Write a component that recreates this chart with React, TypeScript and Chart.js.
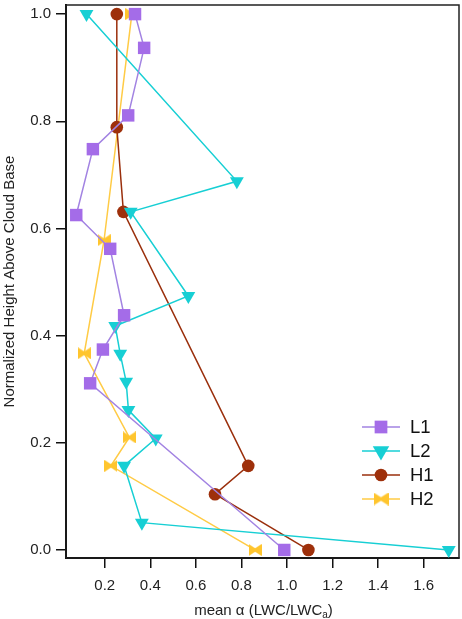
import React, { useEffect, useRef } from 'react';
import { Chart, registerables } from 'chart.js';
import { drawPoint } from 'chart.js/helpers';

Chart.register(...registerables);

// series (mean alpha vs normalized height)
const seriesNames = ['L1', 'L2', 'H1', 'H2'];

const l1Alpha = [0.333, 0.373, 0.303, 0.148, 0.075, 0.224, 0.285, 0.192, 0.136, 0.988];
const l1Height = [1.0, 0.937, 0.811, 0.748, 0.625, 0.562, 0.438, 0.374, 0.311, 0.0];

const l2Alpha = [0.12, 0.78, 0.314, 0.567, 0.246, 0.268, 0.294, 0.304, 0.424, 0.285, 0.363, 1.71];
const l2Height = [1.0, 0.688, 0.631, 0.474, 0.418, 0.366, 0.314, 0.261, 0.208, 0.157, 0.051, 0.0];

const h1Alpha = [0.253, 0.253, 0.282, 0.83, 0.684, 1.094];
const h1Height = [1.0, 0.789, 0.631, 0.157, 0.104, 0.0];

const h2Alpha = [0.319, 0.197, 0.11, 0.308, 0.227, 0.86];
const h2Height = [1.0, 0.578, 0.367, 0.21, 0.157, 0.0];

const xTicks = [0.2, 0.4, 0.6, 0.8, 1.0, 1.2, 1.4, 1.6];
const yTicks = [0, 0.2, 0.4, 0.6, 0.8, 1.0];

const FONT = '"Liberation Sans", Arial, sans-serif';

const toPoints = (xs: number[], ys: number[]) => xs.map((x, i) => ({ x, y: ys[i] }));

// bow-tie marker for H2
const makeBowtie = (color: string, w: number, h: number) => {
  const c = document.createElement('canvas');
  c.width = w;
  c.height = h;
  const g = c.getContext('2d');
  if (g) {
    g.fillStyle = color;
    g.beginPath();
    g.moveTo(0, 0);
    g.lineTo(w / 2, h * 0.36);
    g.lineTo(w, 0);
    g.lineTo(w, h);
    g.lineTo(w / 2, h * 0.64);
    g.lineTo(0, h);
    g.closePath();
    g.fill();
  }
  return c;
};

const framePlugin = {
  id: 'frame',
  beforeDatasetsDraw(chart: any) {
    const { ctx, chartArea: a } = chart;
    ctx.save();
    ctx.strokeStyle = '#222';
    ctx.lineWidth = 1.5;
    ctx.strokeRect(a.left, a.top, a.right - a.left, a.bottom - a.top);
    ctx.restore();
  },
};

const legendPlugin = {
  id: 'insideLegend',
  afterDatasetsDraw(chart: any) {
    const { ctx, chartArea: a } = chart;
    ctx.save();
    chart.data.datasets.forEach((ds: any, i: number) => {
      const y = a.bottom - 131 + i * 24;
      const x0 = a.right - 97;
      ctx.strokeStyle = ds.borderColor;
      ctx.lineWidth = 1.5;
      ctx.beginPath();
      ctx.moveTo(x0, y);
      ctx.lineTo(x0 + 38, y);
      ctx.stroke();
      ctx.fillStyle = ds.pointBackgroundColor;
      drawPoint(
        ctx,
        {
          pointStyle: ds.legendStyle || ds.pointStyle,
          rotation: ds.pointRotation || 0,
          radius: ds.legendRadius || ds.pointRadius,
          borderWidth: 0,
        } as any,
        x0 + 19,
        y
      );
      ctx.fillStyle = '#111';
      ctx.font = '18.5px ' + FONT;
      ctx.textBaseline = 'middle';
      ctx.textAlign = 'left';
      ctx.fillText(seriesNames[i], a.right - 49, y + 1);
    });
    ctx.restore();
  },
};

// x title with a real subscript
const xTitlePlugin = {
  id: 'xTitle',
  afterDraw(chart: any) {
    const { ctx, chartArea: a } = chart;
    ctx.save();
    ctx.fillStyle = '#222';
    ctx.textBaseline = 'alphabetic';
    ctx.textAlign = 'left';
    const main = '15px ' + FONT;
    const sub = '10px ' + FONT;
    const p1 = 'mean α (LWC/LWC';
    const p2 = 'a';
    const p3 = ')';
    ctx.font = main;
    const w1 = ctx.measureText(p1).width;
    const w3 = ctx.measureText(p3).width;
    ctx.font = sub;
    const w2 = ctx.measureText(p2).width;
    const total = w1 + w2 + w3;
    let x = (a.left + a.right) / 2 + 1 - total / 2;
    const base = 615;
    ctx.font = main;
    ctx.fillText(p1, x, base);
    x += w1;
    ctx.font = sub;
    ctx.fillText(p2, x, base + 3);
    x += w2;
    ctx.font = main;
    ctx.fillText(p3, x, base);
    ctx.restore();
  },
};

const ProfileChart: React.FC = () => {
  const canvasRef = useRef<HTMLCanvasElement>(null);
  const chartInstance = useRef<Chart<any> | null>(null);

  useEffect(() => {
    if (!canvasRef.current) return;
    if (chartInstance.current) chartInstance.current.destroy();

    const bowtie = makeBowtie('#ffc52e', 13, 12);
    const bowtieLegend = makeBowtie('#ffc52e', 15, 13);

    const datasets: any[] = [
      {
        label: 'L1',
        data: toPoints(l1Alpha, l1Height),
        borderColor: '#a283e2',
        pointBackgroundColor: '#a46ce8',
        pointStyle: 'rect',
        pointRadius: 8.8,
        legendRadius: 9,
      },
      {
        label: 'L2',
        data: toPoints(l2Alpha, l2Height),
        borderColor: '#17cfd4',
        pointBackgroundColor: '#17cfd4',
        pointStyle: 'triangle',
        pointRotation: 180,
        pointRadius: 8,
        legendRadius: 9.5,
      },
      {
        label: 'H1',
        data: toPoints(h1Alpha, h1Height),
        borderColor: '#9a2f0c',
        pointBackgroundColor: '#9e300b',
        pointStyle: 'circle',
        pointRadius: 6.3,
      },
      {
        label: 'H2',
        data: toPoints(h2Alpha, h2Height),
        borderColor: '#ffcb45',
        pointBackgroundColor: '#ffc52e',
        pointStyle: bowtie,
        legendStyle: bowtieLegend,
        pointRadius: 7,
      },
    ].map((d) => ({
      ...d,
      showLine: true,
      borderWidth: 1.5,
      tension: 0,
      pointBorderWidth: 0,
      pointHoverRadius: d.pointRadius,
      clip: false,
    }));

    chartInstance.current = new Chart(canvasRef.current, {
      type: 'scatter',
      data: { datasets },
      options: {
        animation: false,
        responsive: true,
        maintainAspectRatio: false,
        layout: { autoPadding: false, padding: { top: 5, right: 3, left: 0, bottom: 0 } },
        plugins: {
          legend: { display: false },
          tooltip: { enabled: false },
        },
        scales: {
          x: {
            type: 'linear',
            min: 0.03,
            max: 1.755,
            afterFit: (s: any) => {
              s.height = 61;
              s.paddingLeft = 0;
              s.paddingRight = 0;
            },
            afterBuildTicks: (s: any) => {
              s.ticks = xTicks.map((v) => ({ value: v }));
            },
            ticks: {
              autoSkip: false,
              maxRotation: 0,
              padding: 9,
              color: '#222',
              font: { family: FONT, size: 15 },
              callback: (v: any) => Number(v).toFixed(1),
            },
            grid: {
              drawOnChartArea: false,
              drawTicks: true,
              tickLength: 10,
              color: '#111',
              lineWidth: 1.5,
            },
            border: { display: true, color: '#000', width: 2 },
            title: { display: false },
          },
          y: {
            type: 'linear',
            min: -0.015,
            max: 1.017,
            afterFit: (s: any) => {
              s.width = 66;
              s.paddingTop = 0;
              s.paddingBottom = 0;
            },
            afterBuildTicks: (s: any) => {
              s.ticks = yTicks.map((v) => ({ value: v }));
            },
            ticks: {
              autoSkip: false,
              padding: 5,
              color: '#222',
              font: { family: FONT, size: 15 },
              callback: (v: any) => Number(v).toFixed(1),
            },
            grid: {
              drawOnChartArea: false,
              drawTicks: true,
              tickLength: 10,
              color: '#111',
              lineWidth: 1.5,
            },
            border: { display: true, color: '#000', width: 2 },
            title: {
              display: true,
              text: 'Normalized Height Above Cloud Base',
              color: '#222',
              font: { family: FONT, size: 15 },
              padding: { top: 1, bottom: 0 },
            },
          },
        },
      },
      plugins: [framePlugin, legendPlugin, xTitlePlugin],
    });

    return () => {
      if (chartInstance.current) {
        chartInstance.current.destroy();
        chartInstance.current = null;
      }
    };
  }, []);

  return <canvas ref={canvasRef} />;
};

export default function App() {
  return (
    <div
      style={{
        position: 'absolute',
        left: 0,
        top: 0,
        width: 462,
        height: 619,
        background: '#fff',
      }}
    >
      <ProfileChart />
    </div>
  );
}
